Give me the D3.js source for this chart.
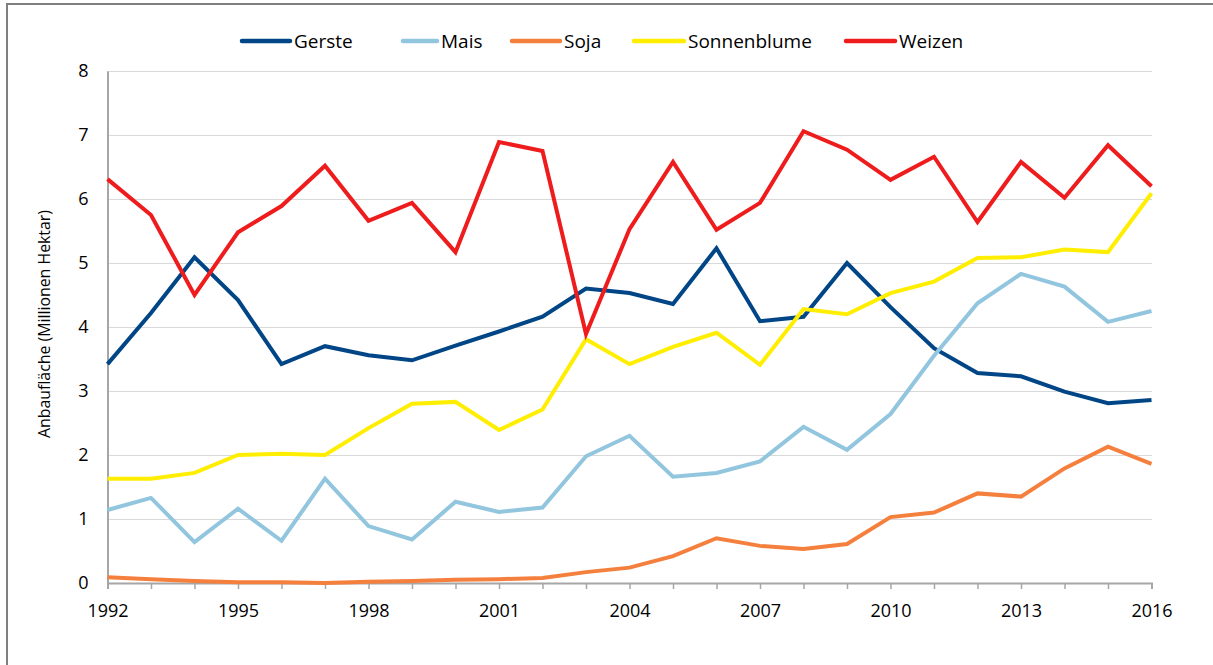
<!DOCTYPE html>
<html><head><meta charset="utf-8">
<script src="https://cdn.jsdelivr.net/npm/d3@7"></script>
<style>body{margin:0;background:#fff;} svg{display:block;font-family:"Open Sans","Noto Sans",sans-serif;}</style>
</head><body>
<svg id="c" width="1213" height="665"></svg>
<script>
const years = d3.range(1992, 2017);
const gerste = [3.42,4.22,5.09,4.42,3.42,3.70,3.56,3.48,3.71,3.93,4.16,4.60,4.53,4.36,5.23,4.09,4.16,5.00,4.31,3.67,3.28,3.23,2.99,2.81,2.86];
const mais = [1.14,1.33,0.64,1.16,0.66,1.63,0.89,0.68,1.27,1.11,1.18,1.98,2.30,1.66,1.72,1.90,2.44,2.08,2.64,3.55,4.37,4.83,4.63,4.08,4.25];
const soja = [0.09,0.06,0.03,0.01,0.01,0.00,0.02,0.03,0.05,0.06,0.08,0.17,0.24,0.42,0.70,0.58,0.53,0.61,1.03,1.10,1.40,1.35,1.79,2.13,1.86];
const sonnenblume = [1.63,1.63,1.72,2.00,2.02,2.00,2.42,2.80,2.83,2.39,2.71,3.81,3.42,3.69,3.91,3.41,4.28,4.20,4.53,4.71,5.08,5.09,5.21,5.17,6.09];
const weizen = [6.31,5.75,4.50,5.48,5.89,6.52,5.66,5.94,5.17,6.89,6.75,3.89,5.53,6.58,5.52,5.94,7.06,6.77,6.30,6.66,5.64,6.58,6.02,6.84,6.20];
const seriesNames = ["Gerste","Mais","Soja","Sonnenblume","Weizen"];
const seriesColors = ["#004586","#92c5de","#f5803e","#ffee00","#ee1c1c"];
const yTicks = [0,1,2,3,4,5,6,7,8];
const xTickLabels = [1992,1995,1998,2001,2004,2007,2010,2013,2016];
const yTitle = "Anbaufläche (Millionen Hektar)";

const data = [gerste, mais, soja, sonnenblume, weizen];
const svg = d3.select("#c");

// frame
svg.append("path").attr("d","M7,665 L7,4 L1213,4").attr("fill","none").attr("stroke","#7f7f7f").attr("stroke-width",2);

const x = d3.scaleLinear().domain([1992,2016]).range([107.5,1151.5]);
const y = d3.scaleLinear().domain([0,8]).range([583,71]);

// gridlines
svg.append("g").selectAll("line").data(yTicks.slice(1)).join("line")
  .attr("x1",107).attr("x2",1152).attr("y1",d=>Math.round(y(d))+0.5).attr("y2",d=>Math.round(y(d))+0.5)
  .attr("stroke","#d9d9d9").attr("stroke-width",1.2);

// y axis
const gy = svg.append("g").attr("transform","translate(107.5,0)")
  .call(d3.axisLeft(y).tickValues(yTicks).tickSize(0).tickPadding(19).tickFormat(d3.format("d")));
gy.select(".domain").attr("stroke","#a6a6a6").attr("stroke-width",2);
gy.selectAll("text").attr("font-size",18).attr("fill","#000").attr("font-family","'Open Sans',sans-serif");

// x axis
const gx = svg.append("g").attr("transform","translate(0,583)")
  .call(d3.axisBottom(x).tickValues(years).tickSize(6).tickSizeOuter(6).tickPadding(15).tickFormat(d => xTickLabels.includes(d) ? d : ""));
gx.select(".domain").attr("stroke","#a6a6a6").attr("stroke-width",2);
gx.selectAll(".tick line").attr("stroke","#a6a6a6").attr("stroke-width",1.5);
gx.selectAll("text").attr("font-size",18).attr("fill","#000").attr("font-family","'Open Sans',sans-serif");

// y title
svg.append("text").attr("transform","translate(50,"+((71+583)/2 - 3)+") rotate(-90)")
  .attr("text-anchor","middle").attr("font-size",16.5).attr("fill","#000")
  .attr("textLength",228).attr("lengthAdjust","spacingAndGlyphs").text(yTitle);

// lines
const line = d3.line().x((d,i)=>x(years[i])).y(d=>y(d));
svg.append("g").selectAll("path").data(data).join("path")
  .attr("d",line).attr("fill","none").attr("stroke",(d,i)=>seriesColors[i])
  .attr("stroke-width",4).attr("stroke-linejoin","miter");

// legend
const legendX = [242,403,512,634,846];
const legendLen = [48,34,48,50,49];
const lg = svg.append("g");
seriesNames.forEach((n,i)=>{
  lg.append("line").attr("x1",legendX[i]).attr("x2",legendX[i]+legendLen[i]).attr("y1",41).attr("y2",41)
    .attr("stroke",seriesColors[i]).attr("stroke-width",4.5).attr("stroke-linecap","round");
  lg.append("text").attr("x",legendX[i]+legendLen[i]+4).attr("y",48).attr("font-size",19).attr("fill","#000").text(n);
});
</script>
</body></html>
